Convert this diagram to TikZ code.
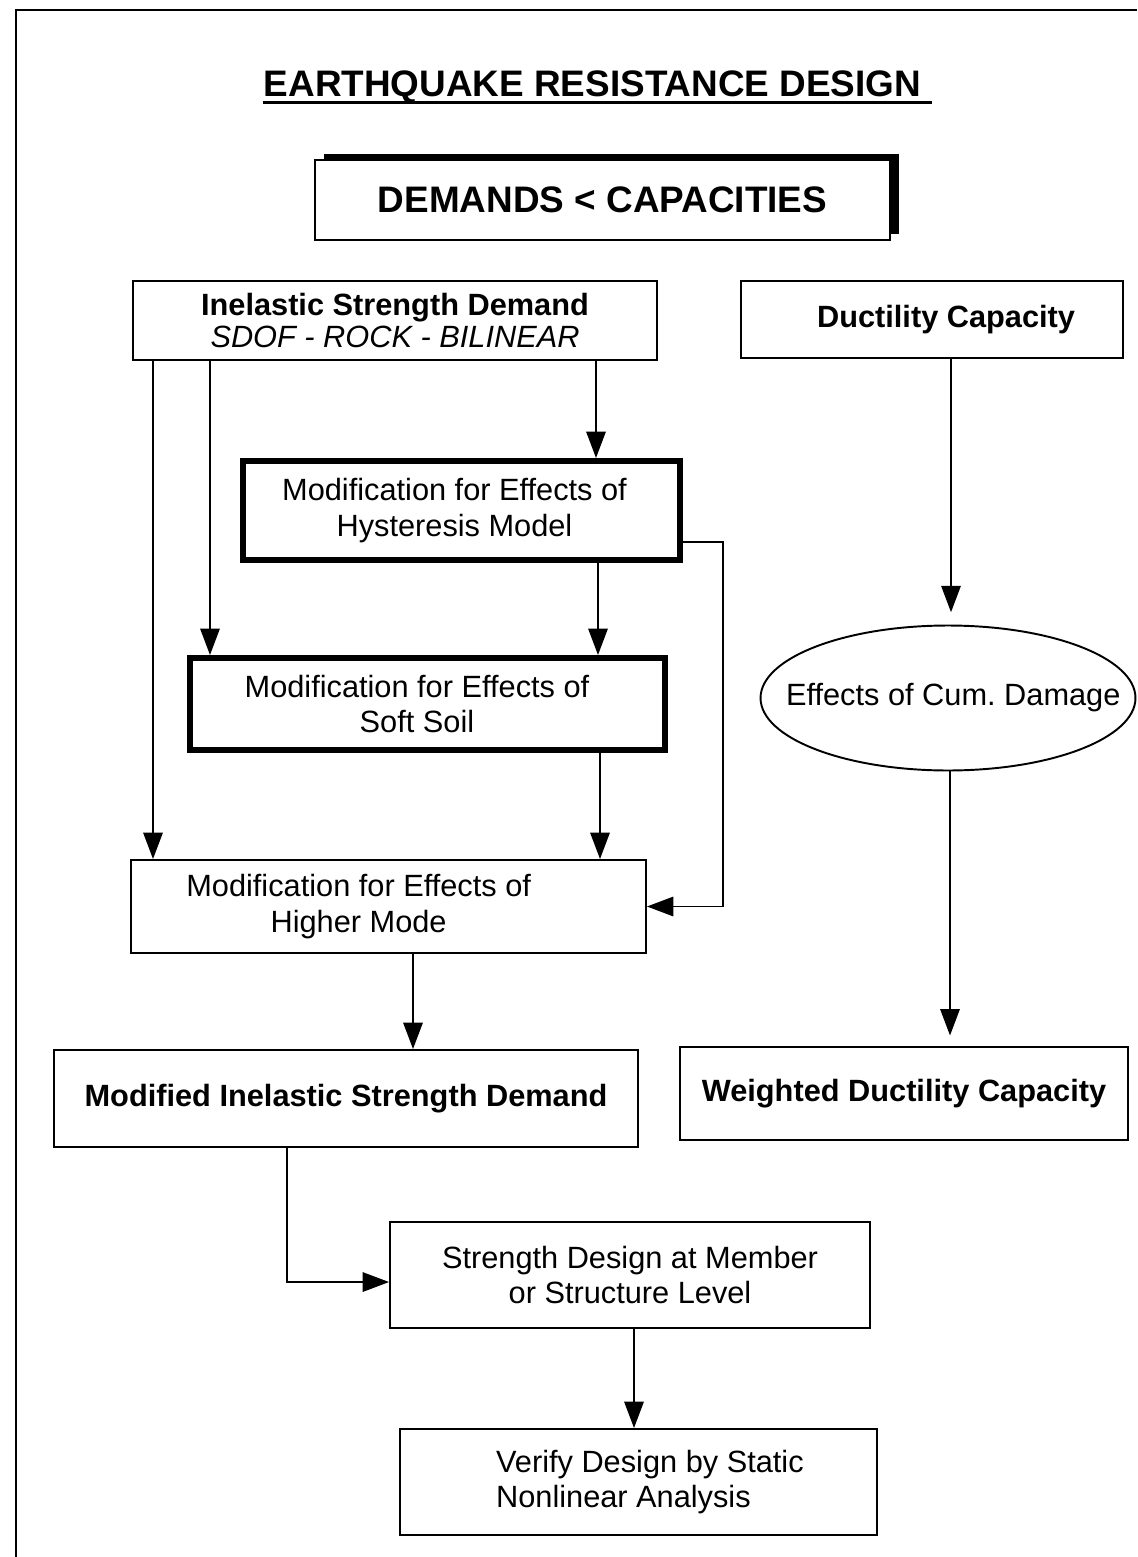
\documentclass[tikz,border=0pt]{standalone}
\usepackage{fontspec}
\setmainfont{Liberation Sans}
\usetikzlibrary{arrows.meta, shapes.geometric, shadows}

\tikzset{
  txt/.style={font=\fontsize{17.5}{20}\selectfont, align=center, inner sep=0pt},
  box/.style={draw, line width=1.1pt, fill=white, txt},
  heavy/.style={box, line width=3.4pt},
  oval/.style={draw, ellipse, line width=1.1pt, txt},
  arr/.style={-{Triangle[length=15pt, width=11pt]}, line width=1.1pt},
}

\begin{document}
\begin{tikzpicture}[x=0.02cm, y=-0.02cm]
  \useasboundingbox (0,0) rectangle (1137,1557);
  % page frame
  \draw[line width=1.6pt] (16,1557) -- (16,10) -- (1137,10);

  % title
  \node[font=\bfseries\fontsize{21}{25}\selectfont, inner sep=0pt, anchor=base] (title)
    at (592.5,97) {EARTHQUAKE RESISTANCE DESIGN};
  \draw[line width=1.6pt] ([yshift=-3pt]title.base west) -- ([yshift=-3pt, xshift=6pt]title.base east);

  \node[box, font=\bfseries\fontsize{21}{25}\selectfont,
        minimum width=11.5cm, minimum height=1.6cm,
        drop shadow={shadow xshift=5pt, shadow yshift=3.5pt, fill=black, opacity=1}] (goal)
    at (602.5,200) {DEMANDS < CAPACITIES};

  % demand side
  \node[box, font=\fontsize{17.5}{18}\selectfont,
        minimum width=10.48cm, minimum height=1.58cm] (ined)
    at (395,320.5) {\textbf{Inelastic Strength Demand}\\\textit{SDOF - ROCK - BILINEAR}};
  \node[heavy, minimum width=8.74cm, minimum height=1.98cm,
        label={[txt, xshift=-4pt]center:Modification for Effects of\\Hysteresis Model}] (hyst)
    at (461.5,510.5) {};
  \node[heavy, minimum width=9.5cm, minimum height=1.84cm,
        label={[txt, xshift=-6pt]center:Modification for Effects of\\Soft Soil}] (soil)
    at (427.5,704) {};
  \node[box, minimum width=10.3cm, minimum height=1.86cm,
        label={[txt, xshift=-17pt]center:Modification for Effects of\\Higher Mode}] (higher)
    at (388.5,906.5) {};
  \node[box, minimum width=11.68cm, minimum height=1.94cm] (modif)
    at (346,1098.5) {\bfseries Modified Inelastic Strength Demand};

  % capacity side
  \node[box, minimum width=7.64cm, minimum height=1.54cm,
        label={[txt, xshift=8pt]center:\bfseries Ductility Capacity}] (duct)
    at (932,319.5) {};
  \node[oval, minimum width=7.5cm, minimum height=2.9cm,
        label={[txt, xshift=3pt]center:Effects of Cum.\ Damage}] (cum)
    at (948,698) {};
  \node[box, minimum width=8.96cm, minimum height=1.86cm] (weight)
    at (904,1093.5) {\bfseries Weighted Ductility Capacity};

  % design
  \node[box, minimum width=9.6cm, minimum height=2.12cm] (strength)
    at (630,1275) {Strength Design at Member\\or Structure Level};
  \node[box, minimum width=9.54cm, minimum height=2.12cm,
        label={[txt, align=left, xshift=6.5pt]center:Verify Design by Static\\Nonlinear Analysis}] (verify)
    at (638.5,1482) {};

  % connectors
  \draw[arr] (153,0 |- ined.south) -- (153,0 |- higher.north);
  \draw[arr] (210,0 |- ined.south) -- (210,0 |- soil.north);
  \draw[arr] (596,0 |- ined.south) -- (596,0 |- hyst.north);
  \draw[arr] (598,0 |- hyst.south) -- (598,0 |- soil.north);
  \draw[arr] (600,0 |- soil.south) -- (600,0 |- higher.north);
  \draw[arr] ([yshift=-18pt]hyst.east) -- ++(40,0) |- (higher.east);
  \draw[arr] (413,0 |- higher.south) -- (413,0 |- modif.north);
  \draw[arr] (287,0 |- modif.south) |- ([yshift=-4pt]strength.west);
  \draw[arr] (634,0 |- strength.south) -- (634,0 |- verify.north);
  \draw[arr, shorten >=7pt] (951,0 |- duct.south) -- (951,0 |- cum.north);
  \draw[arr, shorten >=6pt] (950,0 |- cum.south) -- (950,0 |- weight.north);
\end{tikzpicture}
\end{document}
